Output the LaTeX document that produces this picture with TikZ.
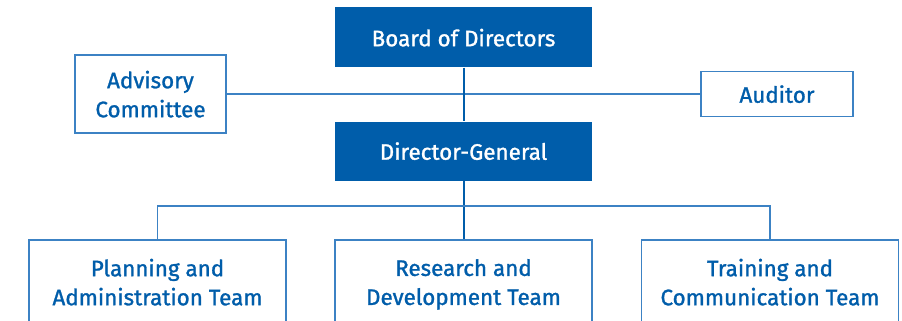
\documentclass[tikz,border=0pt]{standalone}
\usepackage{fontspec}
\setmainfont{Fira Sans}[FakeBold=1.2]
\usepackage{xcolor}
\usepackage{tikz}
\usetikzlibrary{positioning, calc}
\definecolor{orgblue}{HTML}{005DAA}
\definecolor{linkblue}{HTML}{3C82C4}

\begin{document}
\begin{tikzpicture}[x=1pt, y=-1pt,
  every node/.style={font=\fontsize{22.4}{29}\selectfont, align=center, inner sep=0pt, text depth=0pt},
  headbox/.style={fill=orgblue, text=white, minimum width=257pt, minimum height=60pt},
  sidebox/.style={draw=linkblue, line width=1.3pt, fill=white, text=orgblue},
  teambox/.style={sidebox, minimum width=257pt, minimum height=84pt}]
\clip (0,0) rectangle (902,321);
\pgfmathsetmacro{\midx}{463.5}

\node[headbox] (board) at (\midx,37.5) {Board of Directors};
\node[headbox, minimum height=59pt] (dg) at (\midx,151) {Director-General};
\node[sidebox, minimum width=151pt, minimum height=78pt] (advisory) at (150.5,94) {Advisory\\Committee};
\node[sidebox, minimum width=152pt, minimum height=45pt] (auditor) at (777,94) {Auditor};

\node[teambox] (planning) at (157.5,282) {Planning and\\Administration Team};
\node[teambox] (research) at (\midx,282) {Research and\\Development Team};
\node[teambox] (training) at (770,282) {Training and\\Communication Team};

\coordinate (split) at (\midx,206);

\draw[linkblue, line width=1.3pt] (advisory.east) -- (auditor.west);
\draw[orgblue, line width=2pt] (board) -- (dg);
\draw[orgblue, line width=2pt] (dg) -- (research);
\draw[linkblue, line width=1.3pt] (planning.north) |- (split) -| (training.north);

\end{tikzpicture}
\end{document}
